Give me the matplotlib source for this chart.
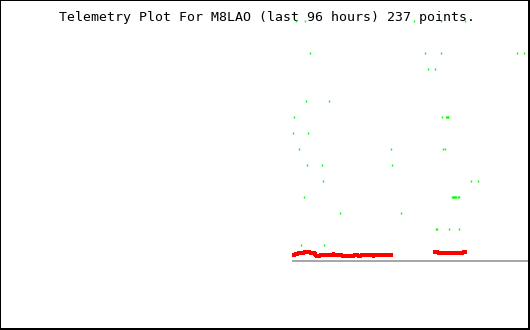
import matplotlib
matplotlib.use("Agg")
import matplotlib.pyplot as plt

# telemetry window, hours (0 = start of the 96 hour window)
title = "Telemetry Plot For M8LAO (last 96 hours) 237 points."
x_range = (0, 96)
y_range = (-4.27, 16.29)

# green channel: (hour, value)
green_t = [
    53.66, 55.35, 75.13, 79.98, 84.44,
    56.31, 77.18, 80.09, 93.88, 95.15,
    77.73, 79.00,
    55.59, 59.76,
    53.41, 80.27, 80.85, 81.03, 81.21, 81.39,
    53.23, 55.95,
    54.31, 71.01, 80.48, 80.67,
    55.77, 58.49, 71.19,
    58.67, 85.53, 86.80,
    55.22, 81.94, 82.12, 82.30, 82.48, 82.66, 82.84, 83.03, 83.21,
    61.76, 72.83,
    79.21, 79.39, 81.54, 83.35,
    54.68, 58.85,
]
green_v = [
    15, 15, 15, 15, 15,
    13, 13, 13, 13, 13,
    12, 12,
    10, 10,
    9, 9, 9, 9, 9, 9,
    8, 8,
    7, 7, 7, 7,
    6, 6, 6,
    5, 5, 5,
    4, 4, 4, 4, 4, 4, 4, 4, 4,
    3, 3,
    2, 2, 2, 2,
    1, 1,
]

# red channel, two runs of readings
red1_t = [52.99, 53.59, 54.08, 55.17, 56.26, 57.11, 57.35, 58.07, 60.43, 60.60,
          62.06, 64.24, 64.97, 65.46, 67.69, 67.87, 71.32]
red1_v = [0.375, 0.44, 0.50, 0.54, 0.50, 0.375, 0.31, 0.34, 0.40, 0.34,
          0.275, 0.34, 0.275, 0.34, 0.28, 0.34, 0.34]
red2_t = [78.58, 79.54, 84.08, 84.69]
red2_v = [0.56, 0.50, 0.56, 0.56]

baseline = 0.0

fig = plt.figure(figsize=(5.3, 3.3), dpi=100)
ax = fig.add_axes([0, 1 / 330, 529 / 530, 329 / 330])
ax.set_xlim(*x_range)
ax.set_ylim(*y_range)
ax.set_xticks([])
ax.set_yticks([])
for s in ax.spines.values():
    s.set_linewidth(1.44)
    s.set_color("black")

# title sits under the points, as in the original
ax.text(267 / 530, 1 - 17 / 330, title, ha="center", va="center",
        transform=fig.transFigure, family="DejaVu Sans Mono",
        fontsize=9.5, color="black", zorder=0)

# zero line from first reading to the right edge
ax.plot([red1_t[0], x_range[1]], [baseline, baseline], color="#a8a8a8",
        lw=1.44, solid_capstyle="butt", antialiased=False)

ax.plot(red1_t, red1_v, color="#ff0000", lw=1.6, drawstyle="steps-post",
        solid_capstyle="butt", antialiased=False)
ax.plot(red2_t, red2_v, color="#ff0000", lw=1.6, drawstyle="steps-post",
        solid_capstyle="butt", antialiased=False)

ax.plot(green_t, green_v, ls="none", marker="|", ms=2.0, mew=1.0,
        color="#00ff00", antialiased=False, clip_on=False, zorder=5)

fig.savefig("out.png", dpi=100)
